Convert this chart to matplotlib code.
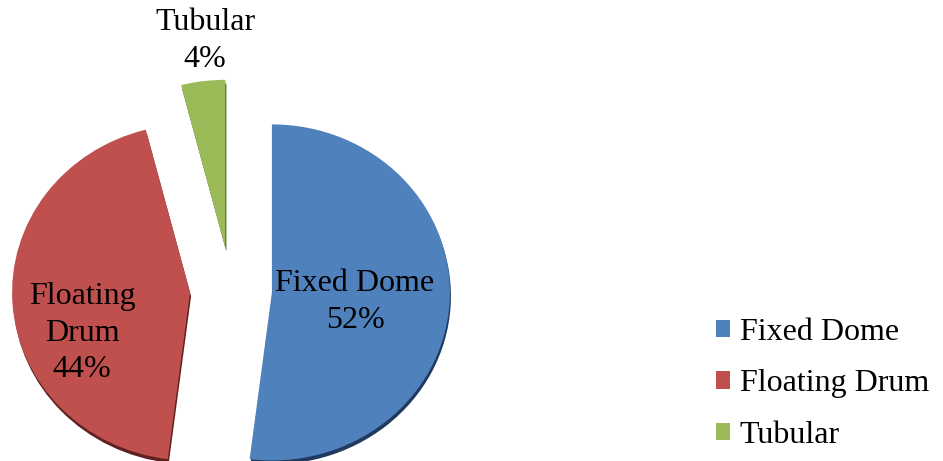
import matplotlib
matplotlib.use("Agg")
import matplotlib.pyplot as plt

# share of digester types
categories = ["Fixed Dome", "Floating Drum", "Tubular"]
shares = [52, 44, 4]
colors = ["#4F81BD", "#C0504D", "#9BBB59"]
shadeColors = ["#1F3A5E", "#5E2120", "#4A5E25"]
pieLabels = ["Fixed Dome\n52%", "Floating\nDrum\n44%", "Tubular\n4%"]

W, H = 943, 461
plt.rcParams['font.family'] = ['Liberation Serif', 'DejaVu Serif']

fig = plt.figure(figsize=(W / 100, H / 100), dpi=100)
ax = fig.add_axes([0, 0, 1, 1])

#pie is a bit squashed vertically (tilted look) -> y data unit is sy pixels
sy = 0.944
cx, cy, rad = 231, (H - 290) / sy, 178
#explode is in data units, not fraction of radius
explode = [41, 41, 45]

#dark rim underneath to fake the 3d look
ax.pie(shares, colors=shadeColors, startangle=90, counterclock=False,
       center=(cx + 1, cy - 4), radius=rad, explode=explode,
       wedgeprops={'linewidth': 0}, frame=True)
wedges, _ = ax.pie(shares, colors=colors, startangle=90, counterclock=False,
                   center=(cx, cy), radius=rad, explode=explode,
                   wedgeprops={'linewidth': 0}, frame=True)
ax.set_aspect('auto')
ax.set_xlim(0, W)
ax.set_ylim(0, H / sy)
ax.axis('off')

labelPos = [(355, 302), (82, 333), (205, 41)]
for txt, (x, y) in zip(pieLabels, labelPos):
    fig.text(x / W, 1 - y / H, txt, ha='center', va='center', fontsize=23,
             linespacing=1.32, color='black')

fig.legend(wedges, categories, loc='upper left',
           bbox_to_anchor=(700 / W, 1 - 302 / H), frameon=False,
           fontsize=23, handlelength=0.45, handleheight=0.45,
           handletextpad=0.3, labelspacing=0.7, borderpad=0)

plt.savefig("out.png", dpi=100)
